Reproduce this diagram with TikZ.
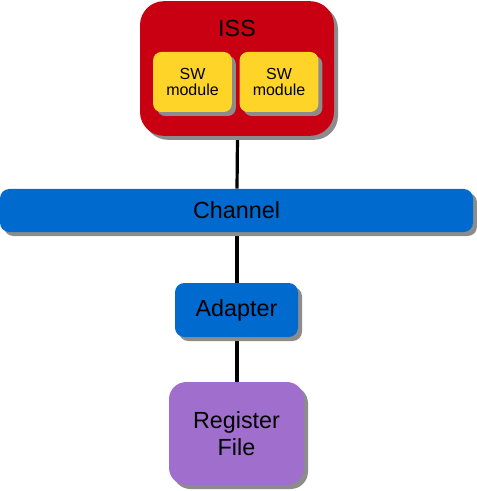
\documentclass[tikz,border=0pt]{standalone}
\usepackage{fontspec}
\setmainfont{Liberation Sans}
\usetikzlibrary{shadows,backgrounds}
\definecolor{issred}{RGB}{200,0,18}
\definecolor{swyellow}{RGB}{255,212,40}
\definecolor{chblue}{RGB}{0,106,206}
\definecolor{regpurple}{RGB}{160,110,204}
\definecolor{shadowgray}{RGB}{140,140,140}
\begin{document}
\begin{tikzpicture}[x=0.75pt,y=-0.75pt,
  box/.style={draw=none,inner sep=0pt,align=center,text=black,
    drop shadow={shadow xshift=3pt,shadow yshift=-3pt,fill=shadowgray,opacity=1}},
  bigfont/.style={font=\fontsize{17.5}{20}\selectfont},
  smallfont/.style={font=\fontsize{12}{12.5}\selectfont},
  link/.style={line width=2.4pt,black}]
\useasboundingbox (0,0) rectangle (476,491);
\node[box,fill=issred,rounded corners=18pt,minimum width=145.5pt,minimum height=101pt] (iss) at (237,68.5) {};
\node[bigfont] (isslabel) at (237,28) {ISS};
\node[box,fill=swyellow,rounded corners=6pt,minimum width=59pt,minimum height=45pt,smallfont] (sw1) at (192.5,82) {SW\\[-1pt]module};
\node[box,fill=swyellow,rounded corners=6pt,minimum width=59pt,minimum height=45pt,smallfont] (sw2) at (279,82) {SW\\[-1pt]module};
\node[box,fill=chblue,rounded corners=7pt,minimum width=354.75pt,minimum height=32.25pt,bigfont] (ch) at (236.5,210.5) {Channel};
\node[box,fill=chblue,rounded corners=7pt,minimum width=92.25pt,minimum height=40.5pt,bigfont] (ad) at (236.5,310) {Adapter};
\node[box,fill=regpurple,rounded corners=13pt,minimum width=101.25pt,minimum height=77.25pt,font=\fontsize{17.5}{20.5}\selectfont] (reg) at (236.5,433.5) {Register\\File};
\begin{scope}[on background layer]
\draw[link] ([xshift=0.5*0.75pt]iss.south) -- ([xshift=0.5*0.75pt]ch.north);
\draw[link] ([xshift=0.5*0.75pt]ch.south) -- ([xshift=0.5*0.75pt]ad.north);
\draw[link] ([xshift=0.5*0.75pt]ad.south) -- ([xshift=0.5*0.75pt]reg.north);
\end{scope}
\end{tikzpicture}
\end{document}
